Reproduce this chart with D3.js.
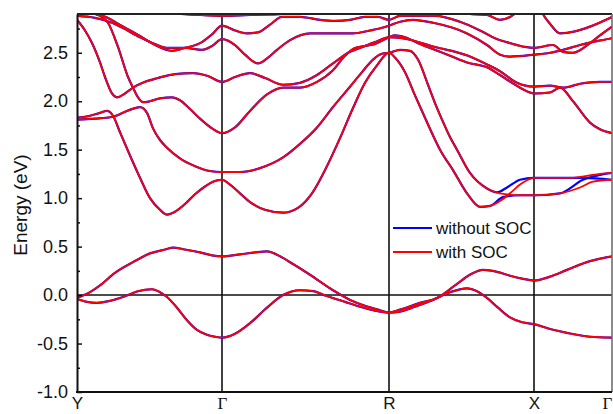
<!DOCTYPE html>
<html>
<head>
<meta charset="utf-8">
<script src="https://cdn.jsdelivr.net/npm/d3@7"></script>
<style>
  html, body { margin: 0; padding: 0; background: #fff; }
  svg { display: block; }
</style>
</head>
<body>
<svg id="chart" width="613" height="414"></svg>
<script>
// High-symmetry points along the k-path
const kNodes = [0, 1.45, 3.12, 4.57, 5.35];
const kNodeLabels = ["Y", "\u0393", "R", "X", "\u0393"];

// Energy axis ticks (eV)
const energyTicks = [-1.0, -0.5, 0.0, 0.5, 1.0, 1.5, 2.0, 2.5];
const energyMinorTicks = [-0.75, -0.25, 0.25, 0.75, 1.25, 1.75, 2.25, 2.75];

// Bands as [k, E] pairs — with spin-orbit coupling
const vb1 = [[0,-0.04],[0.10,-0.07],[0.20,-0.08],[0.33,-0.06],[0.46,-0.02],[0.61,0.04],[0.75,0.06],[0.83,0.03],[0.90,-0.02],[1.00,-0.13],[1.10,-0.26],[1.20,-0.36],[1.30,-0.41],[1.38,-0.43],[1.45,-0.44],
  [1.58,-0.40],[1.73,-0.29],[1.90,-0.13],[2.06,0.00],[2.23,0.05],[2.36,0.04],[2.50,-0.01],[2.68,-0.07],[2.83,-0.12],[2.98,-0.16],[3.12,-0.18],
  [3.23,-0.17],[3.38,-0.12],[3.56,-0.05],[3.73,0.03],[3.90,0.07],[4.00,0.04],[4.10,-0.03],[4.21,-0.13],[4.33,-0.23],[4.45,-0.28],[4.57,-0.30],
  [4.73,-0.35],[4.90,-0.39],[5.13,-0.43],[5.35,-0.44]];

const vb2 = [[0,-0.03],[0.13,0.03],[0.23,0.10],[0.38,0.23],[0.56,0.34],[0.73,0.43],[0.88,0.47],[0.96,0.49],[1.08,0.47],[1.23,0.44],[1.35,0.41],[1.45,0.40],
  [1.63,0.42],[1.78,0.44],[1.90,0.45],[2.03,0.40],[2.16,0.32],[2.33,0.21],[2.56,0.05],[2.73,-0.05],[2.88,-0.11],[3.01,-0.15],[3.12,-0.18],
  [3.23,-0.15],[3.43,-0.08],[3.60,-0.03],[3.78,0.10],[3.93,0.21],[4.06,0.26],[4.20,0.24],[4.33,0.20],[4.45,0.17],[4.57,0.15],
  [4.73,0.19],[4.90,0.26],[5.13,0.35],[5.35,0.40]];

const cb1 = [[0,1.83],[0.13,1.85],[0.23,1.88],[0.30,1.90],[0.36,1.85],[0.43,1.68],[0.53,1.44],[0.63,1.21],[0.73,1.00],[0.83,0.88],[0.90,0.83],[0.98,0.86],[1.08,0.94],[1.18,1.04],[1.28,1.12],[1.36,1.17],[1.45,1.19],
  [1.53,1.14],[1.63,1.05],[1.73,0.96],[1.88,0.88],[2.06,0.85],[2.21,0.90],[2.35,1.05],[2.49,1.31],[2.63,1.62],[2.76,1.93],[2.88,2.19],[3.00,2.37],[3.12,2.50],
  [3.18,2.45],[3.28,2.30],[3.38,2.06],[3.48,1.83],[3.55,1.67],[3.63,1.50],[3.76,1.29],[3.90,1.05],[4.03,0.91],[4.13,0.92],[4.23,0.97],[4.33,1.05],[4.43,1.14],[4.51,1.19],[4.57,1.21],
  [4.73,1.21],[4.93,1.21],[5.10,1.23],[5.23,1.25],[5.35,1.26]];

const cb2 = [[0,1.81],[0.18,1.82],[0.36,1.84],[0.50,1.90],[0.63,1.94],[0.70,1.88],[0.76,1.72],[0.83,1.60],[0.90,1.52],[1.03,1.41],[1.18,1.33],[1.33,1.28],[1.45,1.27],
  [1.63,1.27],[1.83,1.31],[2.06,1.42],[2.23,1.56],[2.40,1.73],[2.56,1.94],[2.73,2.15],[2.85,2.30],[2.96,2.43],[3.05,2.49],[3.12,2.50],
  [3.23,2.53],[3.33,2.52],[3.41,2.43],[3.51,2.17],[3.58,1.98],[3.65,1.81],[3.73,1.63],[3.80,1.50],[3.93,1.26],[4.10,1.10],[4.23,1.05],[4.43,1.03],[4.57,1.03],
  [4.83,1.05],[5.03,1.11],[5.16,1.17],[5.35,1.19]];

const cb3 = [[0,2.94],[0.13,2.92],[0.23,2.88],[0.31,2.81],[0.41,2.56],[0.51,2.25],[0.56,2.14],[0.61,2.04],[0.66,1.99],[0.73,2.00],[0.83,2.03],[0.95,2.04],[1.03,2.01],[1.13,1.92],[1.23,1.82],[1.35,1.72],[1.45,1.67],
  [1.58,1.73],[1.73,1.90],[1.90,2.07],[2.06,2.14],[2.23,2.14],[2.40,2.20],[2.56,2.32],[2.68,2.47],[2.78,2.55],[2.88,2.57],[2.98,2.59],[3.06,2.63],[3.12,2.66],
  [3.18,2.68],[3.28,2.66],[3.43,2.59],[3.58,2.53],[3.73,2.47],[3.90,2.40],[4.10,2.35],[4.23,2.27],[4.43,2.14],[4.57,2.08],
  [4.73,2.09],[4.83,2.14],[4.96,2.00],[5.13,1.78],[5.23,1.71],[5.35,1.67]];

const cb4 = [[0,2.84],[0.08,2.73],[0.15,2.60],[0.23,2.40],[0.28,2.25],[0.35,2.08],[0.40,2.04],[0.48,2.08],[0.56,2.14],[0.68,2.20],[0.81,2.24],[0.98,2.28],[1.16,2.29],[1.31,2.26],[1.45,2.20],
  [1.58,2.25],[1.73,2.29],[1.88,2.24],[2.06,2.17],[2.23,2.19],[2.40,2.27],[2.56,2.39],[2.73,2.51],[2.83,2.55],[2.98,2.61],[3.12,2.66],
  [3.25,2.65],[3.58,2.56],[3.91,2.47],[4.10,2.38],[4.23,2.31],[4.40,2.19],[4.57,2.15],
  [4.73,2.16],[4.86,2.14],[5.03,2.18],[5.23,2.20],[5.35,2.20]];

const cb5 = [[0,2.88],[0.18,2.86],[0.35,2.81],[0.45,2.76],[0.63,2.66],[0.78,2.59],[0.91,2.55],[1.08,2.55],[1.25,2.53],[1.35,2.57],[1.45,2.64],
  [1.58,2.58],[1.68,2.48],[1.81,2.39],[1.91,2.45],[2.00,2.53],[2.13,2.63],[2.33,2.70],[2.53,2.70],[2.76,2.70],[2.93,2.73],[3.06,2.76],[3.12,2.78],
  [3.23,2.82],[3.36,2.84],[3.56,2.81],[3.90,2.70],[4.10,2.58],[4.23,2.48],[4.33,2.46],[4.57,2.48],
  [4.73,2.50],[4.86,2.53],[5.03,2.58],[5.20,2.62],[5.35,2.65]];

const cb6 = [[0,2.91],[0.18,2.90],[0.31,2.86],[0.41,2.80],[0.65,2.66],[0.78,2.58],[0.95,2.52],[1.08,2.55],[1.25,2.61],[1.35,2.69],[1.45,2.78],
  [1.58,2.73],[1.70,2.70],[1.81,2.71],[1.93,2.79],[2.05,2.87],[2.23,2.87],[2.43,2.84],[2.58,2.83],[2.73,2.84],[2.88,2.87],[3.01,2.87],[3.12,2.84],
  [3.23,2.88],[3.58,2.88],[3.83,2.82],[4.03,2.73],[4.18,2.65],[4.33,2.60],[4.48,2.56],[4.57,2.55],
  [4.76,2.58],[4.86,2.51],[4.96,2.50],[5.13,2.60],[5.23,2.68],[5.35,2.77]];

const cb7 = [[0,3.00],[0.63,2.95],[0.95,2.91],[1.23,2.89],[1.45,2.88],[1.73,2.89],[2.05,2.90],[2.33,2.94],[2.63,2.97],[3.12,2.97],
  [3.63,2.93],[3.93,2.90],[4.10,2.89],[4.23,2.84],[4.33,2.87],[4.40,2.92],[4.50,3.00],
  [4.62,3.00],[4.66,2.90],[4.73,2.80],[4.83,2.70],[4.98,2.72],[5.13,2.77],[5.35,2.87]];

// Without spin-orbit coupling: the two lowest conduction bands differ near X
const cb1NoSoc = [[0,1.83],[0.13,1.85],[0.23,1.88],[0.30,1.90],[0.36,1.85],[0.43,1.68],[0.53,1.44],[0.63,1.21],[0.73,1.00],[0.83,0.88],[0.90,0.83],[0.98,0.86],[1.08,0.94],[1.18,1.04],[1.28,1.12],[1.36,1.17],[1.45,1.19],
  [1.53,1.14],[1.63,1.05],[1.73,0.96],[1.88,0.88],[2.06,0.85],[2.21,0.90],[2.35,1.05],[2.49,1.31],[2.63,1.62],[2.76,1.93],[2.88,2.19],[3.00,2.37],[3.12,2.50],
  [3.18,2.45],[3.28,2.30],[3.38,2.06],[3.48,1.83],[3.55,1.67],[3.63,1.50],[3.76,1.29],[3.90,1.05],[4.03,0.91],[4.13,0.92],[4.26,1.01],[4.43,1.03],[4.57,1.03],
  [4.83,1.05],[5.06,1.19],[5.23,1.24],[5.35,1.26]];

const cb2NoSoc = [[0,1.81],[0.18,1.82],[0.36,1.84],[0.50,1.90],[0.63,1.94],[0.70,1.88],[0.76,1.72],[0.83,1.60],[0.90,1.52],[1.03,1.41],[1.18,1.33],[1.33,1.28],[1.45,1.27],
  [1.63,1.27],[1.83,1.31],[2.06,1.42],[2.23,1.56],[2.40,1.73],[2.56,1.94],[2.73,2.15],[2.85,2.30],[2.96,2.43],[3.05,2.49],[3.12,2.50],
  [3.23,2.53],[3.33,2.52],[3.41,2.43],[3.51,2.17],[3.58,1.98],[3.65,1.81],[3.73,1.63],[3.80,1.50],[3.93,1.26],[4.10,1.10],[4.20,1.06],[4.30,1.11],[4.43,1.19],[4.57,1.21],
  [4.93,1.21],[5.06,1.21],[5.35,1.19]];

const bandsNoSoc = [vb1, vb2, cb1NoSoc, cb2NoSoc, cb3, cb4, cb5, cb6, cb7];
const bandsSoc = [vb1, vb2, cb1, cb2, cb3, cb4, cb5, cb6, cb7];

const legendLabels = ["without SOC", "with SOC"];
const colorNoSoc = "#0000ff";
const colorSoc = "#ff0000";

// ---- layout ----
const plotLeft = 77, plotRight = 612, plotTop = 14, plotBottom = 392;
const svg = d3.select("#chart");

const x = d3.scaleLinear().domain([kNodes[0], kNodes[kNodes.length - 1]]).range([plotLeft, plotRight]);
const y = d3.scaleLinear().domain([-1.0, 2.9]).range([plotBottom, plotTop]);

svg.append("defs").append("clipPath").attr("id", "plotClip")
  .append("rect").attr("x", plotLeft).attr("y", plotTop)
  .attr("width", plotRight - plotLeft).attr("height", plotBottom - plotTop);

const line = d3.line()
  .x(d => x(d[0]))
  .y(d => y(d[1]))
  .curve(d3.curveMonotoneX);

const plot = svg.append("g").attr("clip-path", "url(#plotClip)");

// Reference lines: Fermi level and high-symmetry points
plot.append("line")
  .attr("x1", plotLeft).attr("x2", plotRight)
  .attr("y1", y(0)).attr("y2", y(0))
  .attr("stroke", "#111").attr("stroke-width", 1.5);

plot.selectAll("line.kline")
  .data(kNodes.slice(1, -1))
  .join("line")
  .attr("class", "kline")
  .attr("x1", d => x(d)).attr("x2", d => x(d))
  .attr("y1", plotTop).attr("y2", plotBottom)
  .attr("stroke", "#111").attr("stroke-width", 1.6);

// Bands without SOC underneath, with SOC on top
plot.selectAll("path.nosoc")
  .data(bandsNoSoc)
  .join("path")
  .attr("class", "nosoc")
  .attr("d", line)
  .attr("fill", "none")
  .attr("stroke", colorNoSoc)
  .attr("stroke-width", 2.2);

plot.selectAll("path.soc")
  .data(bandsSoc)
  .join("path")
  .attr("class", "soc")
  .attr("d", line)
  .attr("fill", "none")
  .attr("stroke", colorSoc)
  .attr("stroke-width", 1.8);

// Frame
svg.append("line").attr("x1", plotLeft).attr("x2", plotRight).attr("y1", plotTop).attr("y2", plotTop)
  .attr("stroke", "#222").attr("stroke-width", 2);
svg.append("line").attr("x1", plotRight).attr("x2", plotRight).attr("y1", plotTop).attr("y2", plotBottom)
  .attr("stroke", "#666").attr("stroke-width", 1.5);
svg.append("line").attr("x1", plotLeft - 1).attr("x2", plotRight).attr("y1", plotBottom).attr("y2", plotBottom)
  .attr("stroke", "#111").attr("stroke-width", 2);

// Energy axis
const yAxis = d3.axisLeft(y)
  .tickValues(energyTicks)
  .tickSize(-5)
  .tickSizeOuter(0)
  .tickPadding(9)
  .tickFormat(d => d.toFixed(1));
const yAxisG = svg.append("g").attr("transform", `translate(${plotLeft},0)`).call(yAxis);
yAxisG.select(".domain").attr("stroke", "#111").attr("stroke-width", 2);
yAxisG.selectAll(".tick line").attr("stroke", "#111").attr("stroke-width", 1.5);
yAxisG.selectAll(".tick text")
  .attr("font-family", "Liberation Sans, Arial, sans-serif")
  .attr("font-size", 18)
  .attr("fill", "#111");

const yMinor = d3.axisLeft(y).tickValues(energyMinorTicks).tickSize(-3).tickSizeOuter(0).tickFormat("");
const yMinorG = svg.append("g").attr("transform", `translate(${plotLeft},0)`).call(yMinor);
yMinorG.select(".domain").remove();
yMinorG.selectAll(".tick line").attr("stroke", "#111").attr("stroke-width", 1.5);

// k-path labels
const xAxis = d3.axisBottom(x)
  .tickValues(kNodes)
  .tickSize(0)
  .tickPadding(5)
  .tickFormat((d, i) => kNodeLabels[i]);
const xAxisG = svg.append("g").attr("transform", `translate(0,${plotBottom})`).call(xAxis);
xAxisG.select(".domain").remove();
xAxisG.selectAll(".tick text")
  .attr("font-size", 17)
  .attr("fill", "#111")
  .attr("font-family", (d, i) => kNodeLabels[i] === "\u0393" ? "Liberation Serif, Times New Roman, serif" : "Liberation Sans, Arial, sans-serif")
  .attr("dx", (d, i) => i === kNodes.length - 1 ? -5 : 0);

// Axis title
svg.append("text")
  .attr("transform", "translate(27,205) rotate(-90)")
  .attr("text-anchor", "middle")
  .attr("font-family", "Liberation Sans, Arial, sans-serif")
  .attr("font-size", 19)
  .attr("fill", "#111")
  .text("Energy (eV)");

// Legend
const legend = svg.append("g").attr("transform", "translate(393,228)");
const legendColors = [colorNoSoc, colorSoc];
legendLabels.forEach((label, i) => {
  const g = legend.append("g").attr("transform", `translate(0,${i * 24})`);
  g.append("line").attr("x1", 0).attr("x2", 39).attr("y1", 0).attr("y2", 0)
    .attr("stroke", legendColors[i]).attr("stroke-width", 2);
  g.append("text").attr("x", 43).attr("y", 0).attr("dy", "0.36em")
    .attr("font-family", "Liberation Sans, Arial, sans-serif")
    .attr("font-size", 17)
    .attr("fill", "#111")
    .text(label);
});
</script>
</body>
</html>
